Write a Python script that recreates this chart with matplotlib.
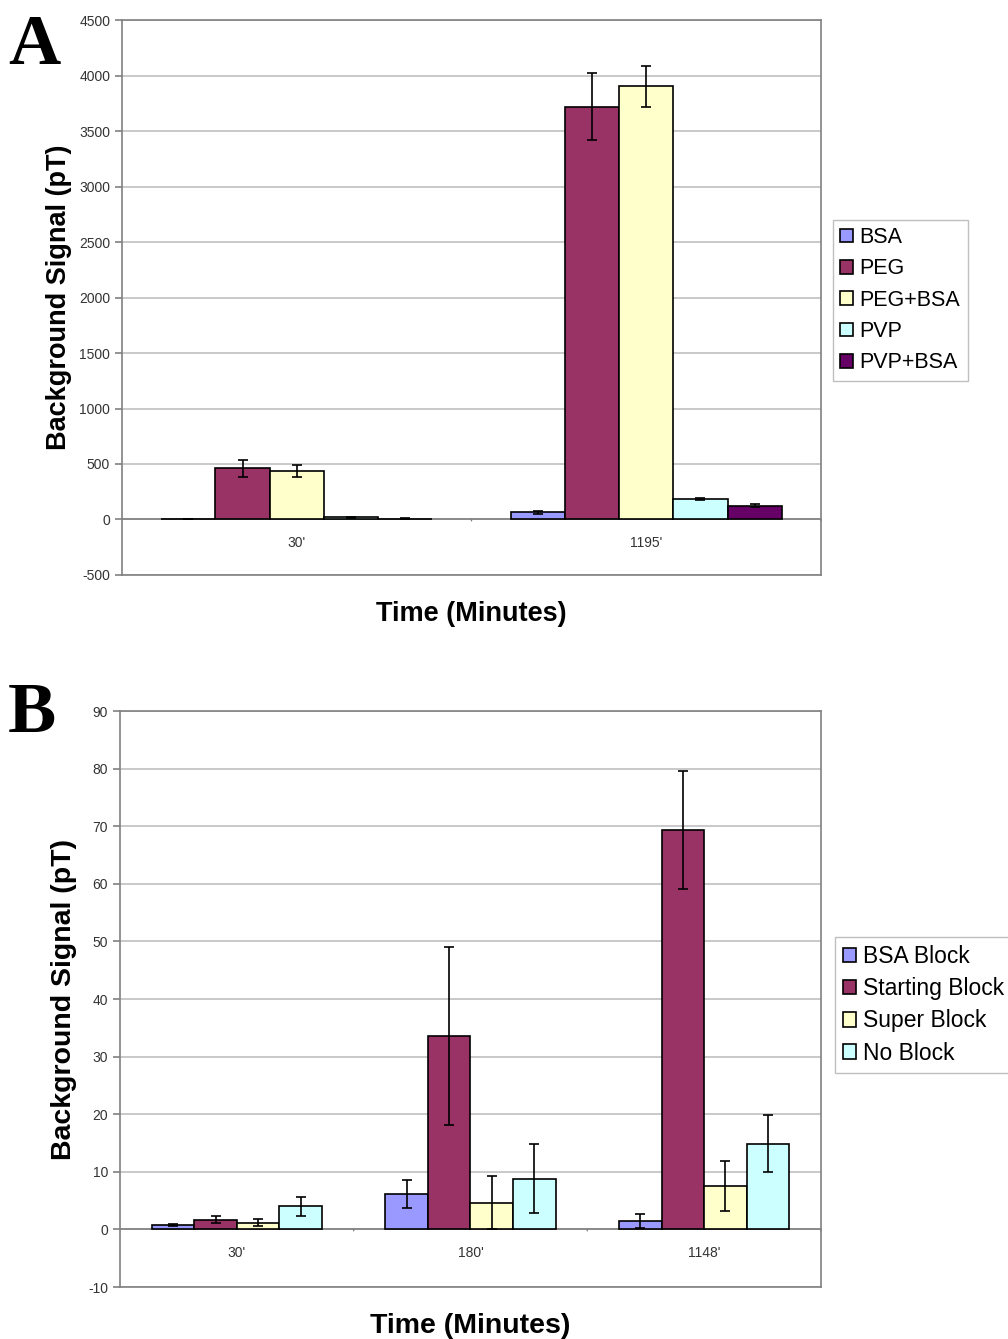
import numpy as np
import matplotlib.pyplot as plt

# panel A data
times_a = ["30'", "1195'"]
series_a = ["BSA", "PEG", "PEG+BSA", "PVP", "PVP+BSA"]
vals_a = [
    [3, 63],
    [460, 3720],
    [440, 3905],
    [20, 182],
    [6, 125],
]
errs_a = [
    [2, 15],
    [80, 305],
    [55, 185],
    [5, 10],
    [3, 15],
]
colors_a = ["#9999FF", "#993366", "#FFFFCC", "#CCFFFF", "#660066"]

# panel B data
times_b = ["30'", "180'", "1148'"]
series_b = ["BSA Block", "Starting Block", "Super Block", "No Block"]
vals_b = [
    [0.8, 6.1, 1.4],
    [1.7, 33.6, 69.3],
    [1.2, 4.6, 7.5],
    [4.0, 8.8, 14.9],
]
errs_b = [
    [0.2, 2.4, 1.2],
    [0.6, 15.5, 10.2],
    [0.6, 4.6, 4.3],
    [1.6, 6.0, 5.0],
]
colors_b = ["#9999FF", "#993366", "#FFFFCC", "#CCFFFF"]

plt.rcParams['font.family'] = ['Liberation Sans', 'DejaVu Sans']
plt.rcParams['axes.unicode_minus'] = False

fig = plt.figure(figsize=(10.08, 13.39), dpi=100)


def draw_panel(ax, cats, names, vals, errs, colors, ylim, ystep, bar_w, lab_size, ypad):
    x = np.arange(len(cats))
    n = len(names)
    for i in range(n):
        pos = x + (i - (n - 1) / 2) * bar_w
        ax.bar(pos, vals[i], width=bar_w, color=colors[i], edgecolor='black',
               linewidth=1.2, label=names[i], zorder=3)
        ax.errorbar(pos, vals[i], yerr=errs[i], fmt='none', ecolor='black',
                    elinewidth=1.2, capsize=3.5, capthick=1.2, zorder=4)
    ax.set_xlim(-0.5, len(cats) - 0.5)
    ax.set_ylim(*ylim)
    ax.set_yticks(np.arange(ylim[0], ylim[1] + ystep / 2, ystep))
    ax.yaxis.grid(True, color='#c0c0c0', linewidth=1.2, zorder=0)
    ax.set_axisbelow(True)
    ax.axhline(0, color='#808080', linewidth=1.2, zorder=2)
    ax.set_xticks([])
    # category labels and tick marks along the zero line
    for k, c in enumerate(cats):
        ax.annotate(c, (k, 0), xytext=(0, -12), textcoords='offset points',
                    ha='center', va='top', fontsize=10, color='#333333')
    for k in range(1, len(cats) + 1):
        ax.annotate('', (k - 0.5, 0), xytext=(0, -3), textcoords='offset points',
                    arrowprops=dict(arrowstyle='-', color='#808080', lw=1))
    for s in ax.spines.values():
        s.set_color('#808080')
        s.set_linewidth(1.2)
    ax.tick_params(axis='y', labelsize=10, labelcolor='#333333', color='#808080',
                   length=5, width=1.2)
    ax.set_ylabel('Background Signal (pT)', fontsize=lab_size, fontweight='bold', labelpad=ypad)
    ax.set_xlabel('Time (Minutes)', fontsize=lab_size, fontweight='bold', labelpad=19)


ax1 = fig.add_axes([0.121, 0.5706, 0.6935, 0.4144])
draw_panel(ax1, times_a, series_a, vals_a, errs_a, colors_a, (-500, 4500), 500, 0.155, 19.5, 5)
ax1.set_yticklabels([str(v) for v in range(-500, 4501, 500)])
fig.legend(*ax1.get_legend_handles_labels(), loc='upper left', bbox_to_anchor=(0.826, 0.836),
           fontsize=15.5, frameon=True, fancybox=False, edgecolor='#b0b0b0',
           handlelength=0.6, handleheight=0.6, handletextpad=0.3, labelspacing=0.48,
           borderpad=0.35, borderaxespad=0)

ax2 = fig.add_axes([0.119, 0.0388, 0.6955, 0.4302])
draw_panel(ax2, times_b, series_b, vals_b, errs_b, colors_b, (-10, 90), 10, 0.182, 20.5, 8)
fig.legend(*ax2.get_legend_handles_labels(), loc='upper left', bbox_to_anchor=(0.828, 0.3002),
           fontsize=16.5, frameon=True, fancybox=False, edgecolor='#b0b0b0',
           handlelength=0.6, handleheight=0.6, handletextpad=0.3, labelspacing=0.4,
           borderpad=0.35, borderaxespad=0)

fig.text(0.008, 0.952, 'A', fontsize=52, fontweight='bold', family='Liberation Serif')
fig.text(0.008, 0.453, 'B', fontsize=52, fontweight='bold', family='Liberation Serif')

fig.savefig('out.png', dpi=100)
